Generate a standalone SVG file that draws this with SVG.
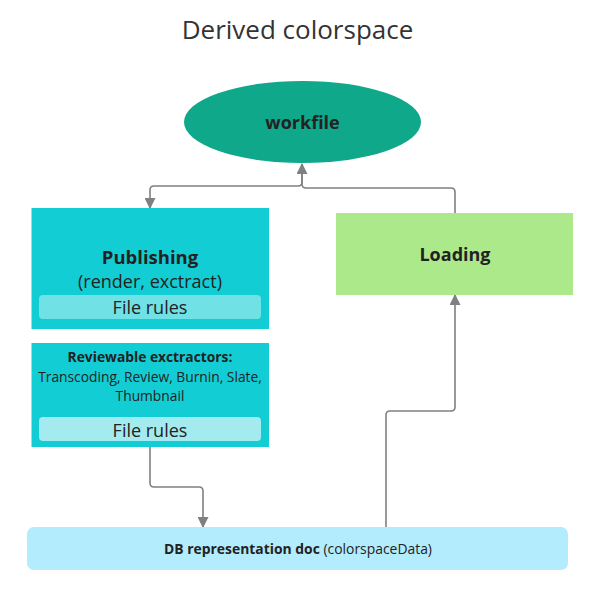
<svg xmlns="http://www.w3.org/2000/svg" width="596" height="605" viewBox="0 0 596 605">
<style>
text{font-family:"Open Sans","Noto Sans","Liberation Sans",sans-serif;fill:#222;text-anchor:middle}
.b{font-weight:700}
.c{fill:none;stroke:#808080;stroke-width:1.6}
.t{fill:#13cdd4}
</style>
<defs>
<marker id="ah" viewBox="0 0 10 10" refX="9" refY="5" markerWidth="11" markerHeight="11" markerUnits="userSpaceOnUse" orient="auto">
<path d="M0,0 L10,5 L0,10 Z" fill="#808080"/>
</marker>
</defs>
<rect width="596" height="605" fill="#fff"/>
<text x="297.5" y="39" style="font-size:26px;fill:#333">Derived colorspace</text>
<g id="connectors">
<path class="c" d="M302,164 V182 Q302,186 298,186 H154 Q150,186 150,190 V208" marker-end="url(#ah)"/>
<path class="c" d="M455,213 V192 Q455,188 451,188 H306 Q302,188 302,184 V164" marker-end="url(#ah)"/>
<path class="c" d="M150,447 V483 Q150,487 154,487 H199 Q203,487 203,491 V527" marker-end="url(#ah)"/>
<path class="c" d="M386,527 V415 Q386,411 390,411 H451 Q455,411 455,407 V295" marker-end="url(#ah)"/>
</g>
<g id="workfile">
<ellipse cx="302.5" cy="122" rx="118.5" ry="41" fill="#0fa88a"/>
<text x="302.5" y="129" class="b" style="font-size:18px">workfile</text>
</g>
<g id="publishing">
<rect x="31.5" y="208" width="237.5" height="121" class="t"/>
<text x="150" y="264" class="b" style="font-size:18.5px">Publishing</text>
<text x="150" y="288" style="font-size:18px">(render, exctract)</text>
<rect x="39" y="295" width="222" height="24" rx="4" fill="#70e1e5"/>
<text x="150" y="314" style="font-size:18px">File rules</text>
</g>
<g id="reviewable">
<rect x="31.5" y="343" width="237.5" height="104" class="t"/>
<text x="150" y="362" class="b" style="font-size:13.8px">Reviewable exctractors:</text>
<text x="150" y="382" style="font-size:13.8px">Transcoding, Review, Burnin, Slate,</text>
<text x="150" y="401" style="font-size:13.8px">Thumbnail</text>
<rect x="39" y="417" width="222" height="24" rx="4" fill="#a3ebee"/>
<text x="150" y="437" style="font-size:18px">File rules</text>
</g>
<g id="loading">
<rect x="336" y="213" width="237" height="82" fill="#abe98a"/>
<text x="455" y="261" class="b" style="font-size:18px">Loading</text>
</g>
<g id="db">
<rect x="27" y="527" width="541" height="43" rx="7" fill="#b3ecfc"/>
<text x="298" y="554" style="font-size:13.9px"><tspan class="b">DB representation doc</tspan> (colorspaceData)</text>
</g>
</svg>
